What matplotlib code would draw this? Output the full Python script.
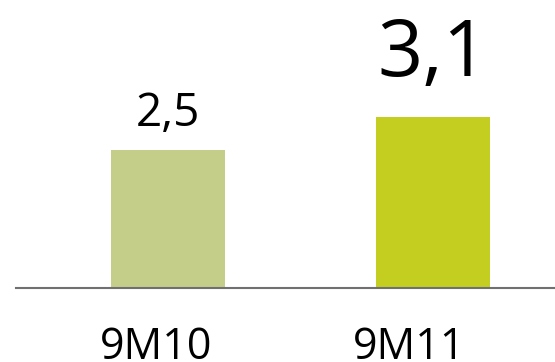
import matplotlib
matplotlib.use("Agg")
import matplotlib.pyplot as plt

# %% Data
periods = ["9M10", "9M11"]
values = [2.5, 3.1]
value_labels = ["2,5", "3,1"]
bar_colors = ["#C4CE89", "#C4CE20"]
label_sizes = [33, 57]

plt.rcParams["font.family"] = ["Open Sans", "DejaVu Sans"]

W, H = 555, 362
fig = plt.figure(figsize=(W / 100, H / 100), dpi=100)
# axes in pixel terms: baseline at y=288, from x=16 to the right edge
ax = fig.add_axes([16 / W, (H - 288) / H, (W - 16) / W, 288 / H])

x = list(range(len(periods)))
ax.bar(x, values, width=0.43, color=bar_colors)

ax.set_xlim(-0.574, 1.46)
ax.set_ylim(0, 288 / 55.2)

# value labels above bars
for xi, v, lab, fs in zip(x, values, value_labels, label_sizes):
    ax.annotate(lab, xy=(xi, v), xytext=(0, 0.52 * fs * 100 / 72),
                textcoords="offset pixels", ha="center", va="baseline",
                fontsize=fs, color="black")

# category labels under the baseline
for xi, p, dx in zip(x, periods, [-12, -24]):
    ax.annotate(p, xy=(xi, 0), xycoords=("data", "axes fraction"),
                xytext=(dx, -71), textcoords="offset pixels",
                ha="center", va="baseline", fontsize=31, color="black",
                annotation_clip=False)

for s in ["top", "right", "left"]:
    ax.spines[s].set_visible(False)
ax.spines["bottom"].set_color("#707070")
ax.spines["bottom"].set_linewidth(1.5)
ax.set_xticks([])
ax.set_yticks([])

fig.savefig("out.png", dpi=100)
